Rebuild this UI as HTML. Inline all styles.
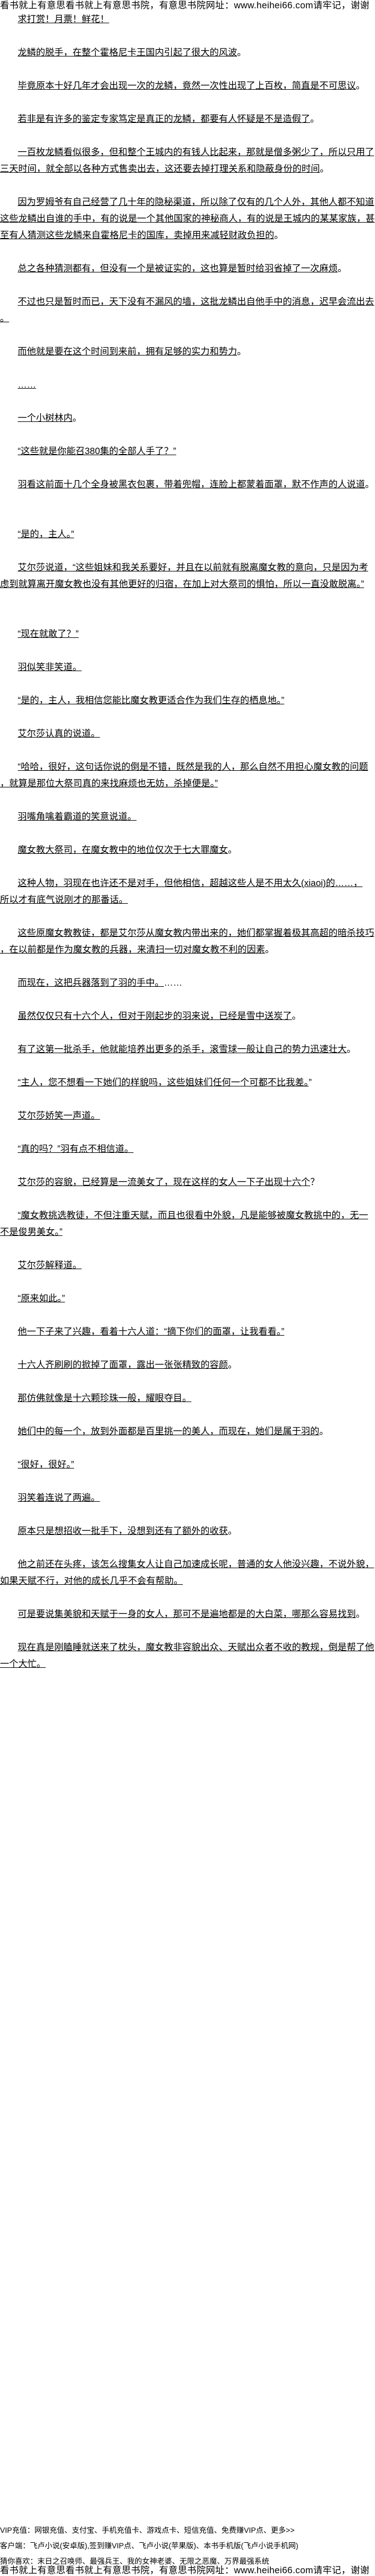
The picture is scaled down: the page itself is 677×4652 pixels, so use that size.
<!DOCTYPE html>
<html>
<head>
<meta charset="utf-8">
<style>
html,body{margin:0;padding:0;background:#fff;}
body{width:677px;height:4652px;position:relative;overflow:hidden;color:#000;
font-family:"Liberation Sans","Noto Sans CJK SC",sans-serif;}
.hdr{position:absolute;left:0;width:677px;height:20px;line-height:20px;font-size:16.6px;white-space:nowrap;overflow:hidden;background:#fff;letter-spacing:0.3px;}
#body{position:absolute;left:0;top:20px;width:677px;}
#body p{margin:0 0 30px 0;font-size:16.5px;line-height:30px;white-space:nowrap;text-indent:32px;}
#body p span{text-decoration:underline;}
#body p.b{height:30px;margin:0;}
.ft{position:absolute;left:0;font-size:13.5px;line-height:20px;white-space:nowrap;}
</style>
</head>
<body>
<div class="hdr" style="top:0">看书就上有意思看书就上有意思书院，有意思书院网址：www.heihei66.com请牢记，谢谢</div>
<div id="body">
<p><span>求打赏！月票！鲜花！</span></p>
<p><span>龙鳞的脱手，在整个霍格尼卡王国内引起了很大的风波</span>。</p>
<p><span>毕竟原本十好几年才会出现一次的龙鳞，竟然一次性出现了上百枚，简直是不可思议</span>。</p>
<p><span>若非是有许多的鉴定专家笃定是真正的龙鳞，都要有人怀疑是不是造假了</span>。</p>
<p><span>一百枚龙鳞看似很多，但和整个王城内的有钱人比起来，那就是僧多粥少了，所以只用了<br>三天时间，就全部以各种方式售卖出去，这还要去掉打理关系和隐蔽身份的时间</span>。</p>
<p><span>因为罗姆爷有自己经营了几十年的隐秘渠道，所以除了仅有的几个人外，其他人都不知道<br>这些龙鳞出自谁的手中，有的说是一个其他国家的神秘商人，有的说是王城内的某某家族，甚<br>至有人猜测这些龙鳞来自霍格尼卡的国库，卖掉用来减轻财政负担的</span>。</p>
<p><span>总之各种猜测都有，但没有一个是被证实的，这也算是暂时给羽省掉了一次麻烦</span>。</p>
<p><span>不过也只是暂时而已，天下没有不漏风的墙，这批龙鳞出自他手中的消息，迟早会流出去<br>。</span></p>
<p><span>而他就是要在这个时间到来前，拥有足够的实力和势力</span>。</p>
<p><span>……</span></p>
<p><span>一个小树林内</span>。</p>
<p><span>“这些就是你能召380集的全部人手了？”</span></p>
<p><span>羽看这前面十几个全身被黑衣包裹，带着兜帽，连脸上都蒙着面罩，默不作声的人说道</span>。</p>
<p class="b"></p>
<p><span>“是的，主人。”</span></p>
<p><span>艾尔莎说道，“这些姐妹和我关系要好，并且在以前就有脱离魔女教的意向，只是因为考<br>虑到就算离开魔女教也没有其他更好的归宿，在加上对大祭司的惧怕，所以一直没敢脱离。”</span></p>
<p class="b"></p>
<p><span>“现在就敢了？”</span></p>
<p><span>羽似笑非笑道。</span></p>
<p><span>“是的，主人，我相信您能比魔女教更适合作为我们生存的栖息地。”</span></p>
<p><span>艾尔莎认真的说道。</span></p>
<p><span>“哈哈，很好，这句话你说的倒是不错，既然是我的人，那么自然不用担心魔女教的问题<br>，就算是那位大祭司真的来找麻烦也无妨，杀掉便是。”</span></p>
<p><span>羽嘴角噙着霸道的笑意说道。</span></p>
<p><span>魔女教大祭司，在魔女教中的地位仅次于七大罪魔女</span>。</p>
<p><span>这种人物，羽现在也许还不是对手，但他相信，超越这些人是不用太久(xiaoi)的……，<br>所以才有底气说刚才的那番话。</span></p>
<p><span>这些原魔女教教徒，都是艾尔莎从魔女教内带出来的，她们都掌握着极其高超的暗杀技巧<br>，在以前都是作为魔女教的兵器，来清扫一切对魔女教不利的因素</span>。</p>
<p><span>而现在，这把兵器落到了羽的手中。</span>……</p>
<p><span>虽然仅仅只有十六个人，但对于刚起步的羽来说，已经是雪中送炭了</span>。</p>
<p><span>有了这第一批杀手，他就能培养出更多的杀手，滚雪球一般让自己的势力迅速壮大</span>。</p>
<p><span>“主人，您不想看一下她们的样貌吗，这些姐妹们任何一个可都不比我差。</span>”</p>
<p><span>艾尔莎娇笑一声道。</span></p>
<p><span>“真的吗？”羽有点不相信道。</span></p>
<p><span>艾尔莎的容貌，已经算是一流美女了，现在这样的女人一下子出现十六个</span>？</p>
<p><span>“魔女教挑选教徒，不但注重天赋，而且也很看中外貌，凡是能够被魔女教挑中的，无一<br>不是俊男美女。”</span></p>
<p><span>艾尔莎解释道。</span></p>
<p><span>“原来如此。”</span></p>
<p><span>他一下子来了兴趣，看着十六人道：“摘下你们的面罩，让我看看。”</span></p>
<p><span>十六人齐刷刷的掀掉了面罩，露出一张张精致的容颜</span>。</p>
<p><span>那仿佛就像是十六颗珍珠一般，耀眼夺目。</span></p>
<p><span>她们中的每一个，放到外面都是百里挑一的美人，而现在，她们是属于羽的</span>。</p>
<p><span>“很好，很好。”</span></p>
<p><span>羽笑着连说了两遍。</span></p>
<p><span>原本只是想招收一批手下，没想到还有了额外的收获</span>。</p>
<p><span>他之前还在头疼，该怎么搜集女人让自己加速成长呢，普通的女人他没兴趣，不说外貌，<br>如果天赋不行，对他的成长几乎不会有帮助。</span></p>
<p><span>可是要说集美貌和天赋于一身的女人，那可不是遍地都是的大白菜，哪那么容易找到</span>。</p>
<p><span>现在真是刚瞌睡就送来了枕头，魔女教非容貌出众、天赋出众者不收的教规，倒是帮了他<br>一个大忙。</span></p>
</div>
<div class="ft" style="top:4560px">VIP充值：网银充值、支付宝、手机充值卡、游戏点卡、短信充值、免费赚VIP点、更多&gt;&gt;</div>
<div class="ft" style="top:4588px">客户端：飞卢小说(安卓版),签到赚VIP点、飞卢小说(苹果版)、本书手机版(飞卢小说手机网)</div>
<div class="ft" style="top:4616px">猜你喜欢：末日之召唤师、最强兵王、我的女神老婆、无限之恶魔、万界最强系统</div>
<div class="hdr" style="top:4632px">看书就上有意思看书就上有意思书院，有意思书院网址：www.heihei66.com请牢记，谢谢</div>
</body>
</html>
